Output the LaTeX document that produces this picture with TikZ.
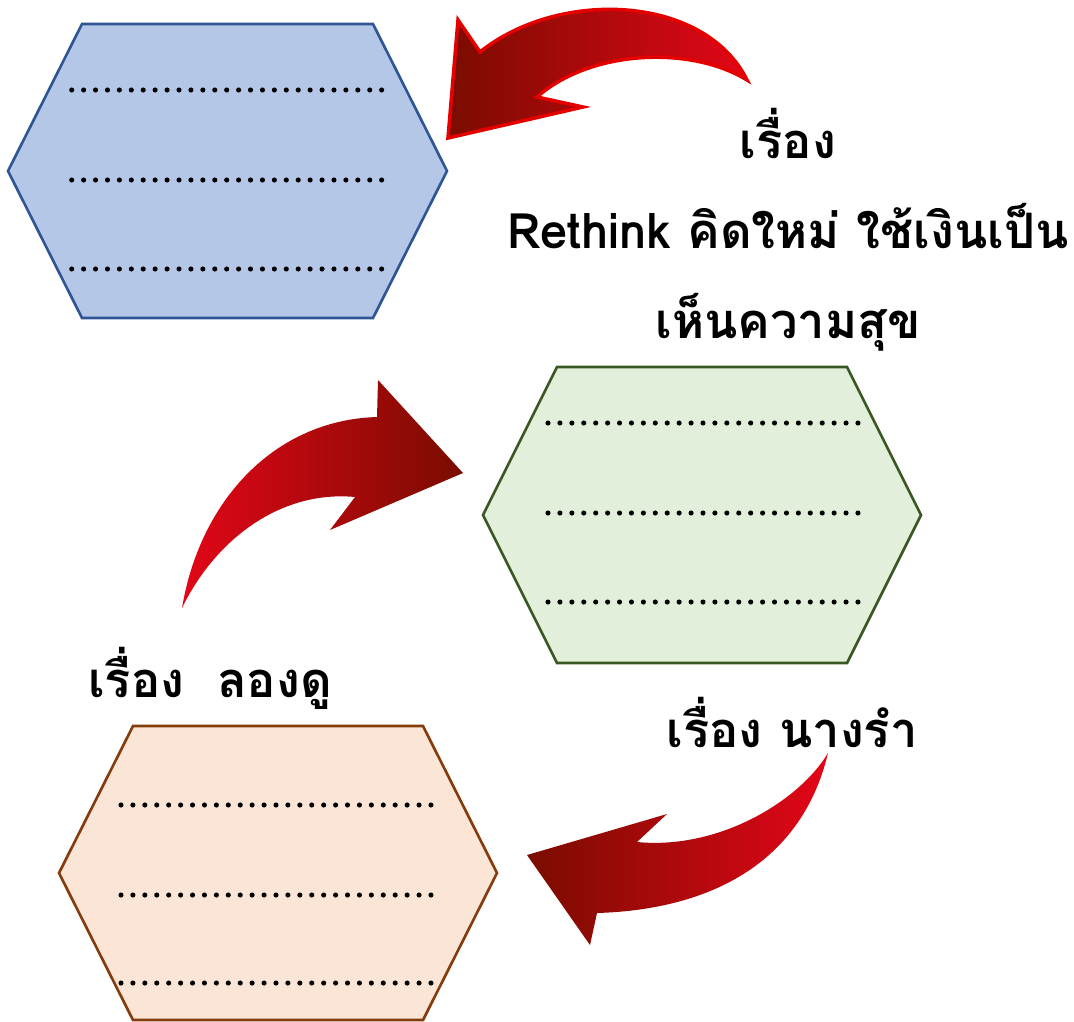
\documentclass[tikz,border=0pt]{standalone}
\usepackage{fontspec}
\setmainfont[Script=Thai]{Loma}

\definecolor{bluefill}{HTML}{B4C7E7}
\definecolor{blueline}{HTML}{2F5597}
\definecolor{greenfill}{HTML}{E2EFDA}
\definecolor{greenline}{HTML}{385723}
\definecolor{orangefill}{HTML}{FBE5D6}
\definecolor{orangeline}{HTML}{843C0C}
\definecolor{arrowdark}{RGB}{122,12,0}
\definecolor{arrowred}{RGB}{226,6,24}

\tikzset{
  hexa/.style={line width=0.75pt, line join=miter},
  dotrow/.style={line width=1.45pt, line cap=round, dash pattern=on 0pt off 3.39pt},
  bentarrow/.style={left color=arrowdark, right color=arrowred},
  caption/.style={font=\fontsize{13.9}{25.6}\selectfont\bfseries, align=center, inner sep=0pt}
}

\begin{document}
\begin{tikzpicture}[x=0.01cm, y=-0.01cm]
    \useasboundingbox (0,0) rectangle (1074,1021);

    % hexagons
    \draw[hexa, fill=bluefill, draw=blueline]
        (8,171) -- (82,24) -- (373,24) -- (447,171) -- (373,318) -- (82,318) -- cycle;
    \draw[hexa, fill=greenfill, draw=greenline]
        (483,515) -- (557,367) -- (847,367) -- (921,515) -- (847,663) -- (557,663) -- cycle;
    \draw[hexa, fill=orangefill, draw=orangeline]
        (59,873) -- (133,726) -- (423,726) -- (497,873) -- (423,1020) -- (133,1020) -- cycle;

    % dotted rows
    \foreach \y in {90,180,269}
        \draw[dotrow] (71.7,\y) -- ++(310.5,0);
    \foreach \y in {423,513,602}
        \draw[dotrow] (548,\y) -- ++(310.5,0);
    \foreach \y in {805,895,983}
        \draw[dotrow] (121,\y) -- ++(310.5,0);

    % bent arrows
    \path[bentarrow, draw=red!90!black, line width=1pt]
        (747,80) .. controls (705,-5) and (560,-12) .. (480,52)
        -- (458,20) -- (448,138) -- (583,107) -- (537,97)
        .. controls (590,50) and (690,45) .. (747,80) -- cycle;
    \path[bentarrow, right color=arrowdark, left color=arrowred]
        (182,608) .. controls (200,500) and (275,420) .. (377,417)
        -- (378,380) -- (463,473) -- (330,530) -- (355,497)
        .. controls (280,490) and (215,540) .. (182,608) -- cycle;
    \path[bentarrow]
        (828,753) .. controls (800,870) and (700,910) .. (597,913)
        -- (590,945) -- (527,855) -- (667,814) -- (637,842)
        .. controls (720,850) and (800,800) .. (828,753) -- cycle;

    % titles
    \node[caption] (storyone) at (788,230)
        {เรื่อง\\Rethink คิดใหม่ ใช้เงินเป็น\\เห็นความสุข};
    \node[caption] (storytwo) at (210,678) {เรื่อง\ \ ลองดู};
    \node[caption] (storythree) at (792,722) {เรื่อง นางรำ};
\end{tikzpicture}
\end{document}
